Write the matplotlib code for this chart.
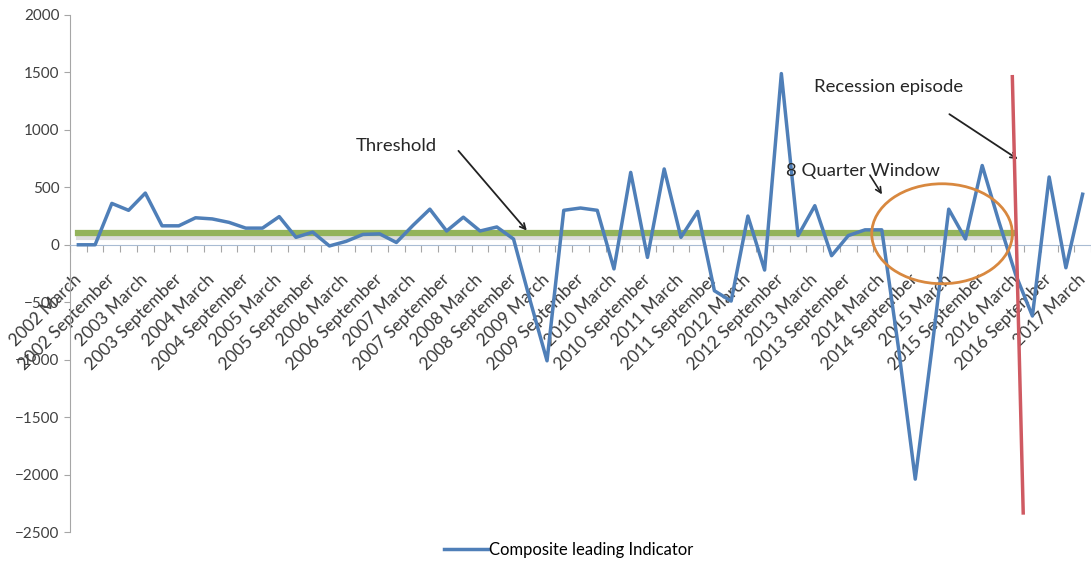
import matplotlib.pyplot as plt
from matplotlib.patches import Ellipse
import numpy as np

plt.rcParams['font.family'] = ['Lato', 'DejaVu Sans']

# quarterly composite leading indicator, 2002 March .. 2017 March
cli = [0, 0, 360, 300, 450, 165, 165, 235, 225, 195,
       145, 145, 245, 65, 110, -10, 30, 90, 95, 20,
       170, 310, 120, 240, 120, 155, 50, -490, -1010, 300,
       320, 300, -210, 630, -110, 660, 65, 290, -400, -490,
       250, -220, 1490, 80, 340, -95, 80, 130, 130, -900,
       -2040, -900, 310, 50, 690, 200, -260, -620, 590, -200,
       440]
threshold = 100
years = list(range(2002, 2018))
tick_labels = [f"{y} {m}" for y in years for m in ("March", "September")][:31]
yticks = [-2500, -2000, -1500, -1000, -500, 0, 500, 1000, 1500, 2000]

# recession marker (slightly slanted hand-drawn line) and 8-quarter window
recession_x = [55.8, 56.45]
recession_y = [1463, -2334]
window_center = (51.6, 96)

fig = plt.figure(figsize=(10.91, 5.69), dpi=100)
ax = fig.add_axes([70/1091, 1-532/569, (1091-70)/1091, 517/569])

x = np.arange(len(cli))

# threshold line with its light shadow
ax.plot([0, recession_x[0]], [threshold - 40, threshold - 40], color='#dcdcdc', lw=3, zorder=1)
ax.plot([0, recession_x[0]], [threshold, threshold], color='#93b35a', lw=4.5, zorder=2)

ax.plot(x, cli, color='#4f7fb8', lw=2.5, zorder=3, label='Composite leading Indicator')

ax.plot(recession_x, recession_y, color='#cf5a62', lw=2.5, zorder=4, clip_on=False)
ax.add_patch(Ellipse(window_center, 8.4, 870, fill=False, edgecolor='#d8883f', lw=2, zorder=5))

ax.set_xlim(-0.42, 60.18)
ax.set_ylim(-2500, 2000)

ax.spines['top'].set_visible(False)
ax.spines['right'].set_visible(False)
ax.spines['left'].set_color('#a6a6a6')
ax.spines['bottom'].set_position(('data', 0))
ax.spines['bottom'].set_color('#a9bcd3')

ax.set_yticks(yticks)
ax.tick_params(axis='y', colors='#a6a6a6', labelcolor='#404040', labelsize=11, length=4)

ax.set_xticks(np.arange(-0.5, 61, 1))
ax.set_xticklabels([])
ax.tick_params(axis='x', which='major', colors='#a6a6a6', length=5, direction='out')
ax.set_xticks(np.arange(0, 61, 2), minor=True)
ax.set_xticklabels(tick_labels, minor=True, rotation=45, ha='right', va='center',
                   rotation_mode='anchor', fontsize=12.5, color='#3a3a3a')
ax.tick_params(axis='x', which='minor', length=0, pad=23)

ax.text(19.0, 862, 'Threshold', fontsize=13.3, ha='center', va='center', color='#262626')
ax.annotate('', xy=(26.9, 105), xytext=(22.6, 836),
            arrowprops=dict(arrowstyle='->', color='#222222', lw=1.3))
ax.text(48.4, 1376, 'Recession episode', fontsize=13.3, ha='center', va='center', color='#262626')
ax.annotate('', xy=(56.26, 732), xytext=(51.9, 1150),
            arrowprops=dict(arrowstyle='->', color='#222222', lw=1.3))
ax.text(46.85, 640, '8 Quarter Window', fontsize=13.3, ha='center', va='center', color='#262626')
ax.annotate('', xy=(48.1, 418), xytext=(47.2, 627),
            arrowprops=dict(arrowstyle='->', color='#222222', lw=1.2))

fig.legend(loc='center', bbox_to_anchor=(0.5215, 0.033), frameon=False, fontsize=12,
           handlelength=2.6, handletextpad=0.1)

fig.savefig('out.png', dpi=100)
